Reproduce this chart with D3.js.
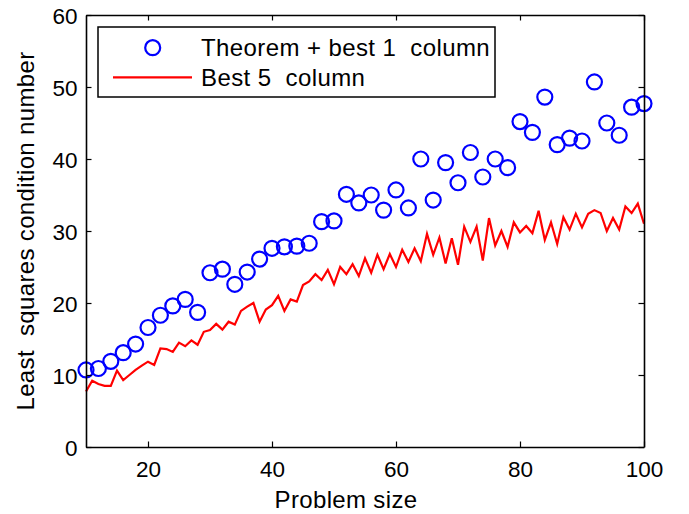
<!DOCTYPE html>
<html>
<head>
<meta charset="utf-8">
<script src="https://cdn.jsdelivr.net/npm/d3@7"></script>
<style>
  body { margin: 0; background: #fff; }
  text { font-family: "Liberation Sans", Arial, Helvetica, sans-serif; fill: #000; white-space: pre; }
</style>
</head>
<body>
<div id="chart"></div>
<script>
// problem sizes for the circle series (every 2nd size)
const theoremSizes = d3.range(10, 101, 2);
const theoremValues = [
  10.7, 10.9, 11.9, 13.1, 14.3, 16.6, 18.3, 19.6, 20.5, 18.7,
  24.2, 24.7, 22.6, 24.3, 26.1, 27.6, 27.8, 27.9, 28.3, 31.3,
  31.4, 35.1, 33.9, 35.0, 32.9, 35.7, 33.2, 40.0, 34.3, 39.5,
  36.7, 40.9, 37.5, 40.0, 38.8, 45.2, 43.7, 48.6, 42.0, 42.9,
  42.5, 50.7, 45.0, 43.3, 47.2, 47.7
];

// problem sizes for the line series (every size)
const bestSizes = d3.range(10, 101, 1);
const bestValues = [
  7.7, 9.2, 8.75, 8.5, 8.5, 10.6, 9.3, 10.0, 10.7, 11.3,
  11.85, 11.4, 13.7, 13.6, 13.2, 14.5, 14.0, 14.8, 14.2, 16.0,
  16.25, 17.1, 16.3, 17.4, 17.0, 18.9, 19.5, 20.0, 17.4, 19.1,
  19.7, 21.0, 18.9, 20.5, 20.2, 22.5, 23.0, 24.0, 23.2, 24.6,
  22.6, 25.0, 24.0, 25.4, 23.75, 26.2, 24.2, 26.7, 24.7, 26.8,
  25.0, 27.4, 25.7, 27.6, 25.8, 29.6, 26.7, 29.1, 25.5, 29.0,
  25.3, 30.6, 28.5, 30.6, 25.9, 31.8, 28.0, 30.0, 27.8, 31.2,
  29.8, 30.7, 29.7, 32.8, 28.75, 31.2, 28.2, 31.9, 30.2, 32.4,
  30.5, 32.4, 32.9, 32.5, 30.0, 31.8, 30.2, 33.4, 32.5, 33.8,
  31.0
];

const xTicks = [20, 40, 60, 80, 100];
const yTicks = [0, 10, 20, 30, 40, 50, 60];
const legendLabels = ["Theorem + best 1  column", "Best 5  column"];
const xLabel = "Problem size";
const yLabel = "Least  squares condition number";

const W = 689, H = 514;
const margin = {top: 15, right: 45, bottom: 67, left: 86};
const width = W - margin.left - margin.right;
const height = H - margin.top - margin.bottom;

const svg = d3.select("#chart").append("svg")
    .attr("width", W)
    .attr("height", H);
const g = svg.append("g")
    .attr("transform", "translate(" + margin.left + "," + margin.top + ")");

const x = d3.scaleLinear().domain([10, 100]).range([0, width]);
const y = d3.scaleLinear().domain([0, 60]).range([height, 0]);

// red line
const line = d3.line()
    .x((d, i) => x(bestSizes[i]))
    .y(d => y(d));
g.append("path")
    .datum(bestValues)
    .attr("fill", "none")
    .attr("stroke", "#ff0000")
    .attr("stroke-width", 2.2)
    .attr("stroke-linejoin", "miter")
    .attr("d", line);

// blue circles
g.selectAll("circle.pt")
    .data(theoremValues)
  .enter().append("circle")
    .attr("class", "pt")
    .attr("cx", (d, i) => x(theoremSizes[i]))
    .attr("cy", d => y(d))
    .attr("r", 7.5)
    .attr("fill", "none")
    .attr("stroke", "#0000ff")
    .attr("stroke-width", 2.2);

// axes box with inward ticks
const tickLen = 5.5;
const axBottom = g.append("g").attr("transform", "translate(0," + height + ")")
    .call(d3.axisBottom(x).tickValues(xTicks).tickSizeInner(-tickLen).tickSizeOuter(0).tickPadding(14));
const axTop = g.append("g")
    .call(d3.axisTop(x).tickValues(xTicks).tickSizeInner(-tickLen).tickSizeOuter(0).tickFormat(""));
const axLeft = g.append("g")
    .call(d3.axisLeft(y).tickValues(yTicks).tickSizeInner(-tickLen).tickSizeOuter(0).tickPadding(14));
const axRight = g.append("g").attr("transform", "translate(" + width + ",0)")
    .call(d3.axisRight(y).tickValues(yTicks).tickSizeInner(-tickLen).tickSizeOuter(0).tickFormat(""));

[axBottom, axTop, axLeft, axRight].forEach(a => {
    a.selectAll("path.domain").attr("stroke", "#000").attr("stroke-width", 1.6);
    a.selectAll(".tick line").attr("stroke", "#000").attr("stroke-width", 1.2);
    a.selectAll(".tick text").style("font-size", "22.5px")
        .style("font-family", "'Liberation Sans', Arial, sans-serif").attr("fill", "#000");
});
axLeft.selectAll(".tick text").attr("dy", "0.38em").attr("x", -8.5);
axBottom.selectAll(".tick text").attr("dy", "0.71em").attr("y", 14);

// axis labels
svg.append("text")
    .attr("x", 346)
    .attr("y", 508)
    .attr("text-anchor", "middle")
    .style("font-size", "24px")
    .style("letter-spacing", "0.35px")
    .text(xLabel);
svg.append("text")
    .attr("transform", "translate(34,231) rotate(-90)")
    .attr("text-anchor", "middle")
    .style("font-size", "24px")
    .style("letter-spacing", "0.35px")
    .text(yLabel);

// legend
const legend = svg.append("g");
legend.append("rect")
    .attr("x", 98).attr("y", 27)
    .attr("width", 397).attr("height", 70)
    .attr("fill", "#fff")
    .attr("stroke", "#000")
    .attr("stroke-width", 1.5);
legend.append("circle")
    .attr("cx", 152.7).attr("cy", 47.7).attr("r", 7.5)
    .attr("fill", "none").attr("stroke", "#0000ff").attr("stroke-width", 2.2);
legend.append("line")
    .attr("x1", 113).attr("x2", 192)
    .attr("y1", 77.3).attr("y2", 77.3)
    .attr("stroke", "#ff0000").attr("stroke-width", 2.2);
legend.selectAll("text.lg")
    .data(legendLabels)
  .enter().append("text")
    .attr("class", "lg")
    .attr("x", 201)
    .attr("y", (d, i) => 55.5 + i * 30)
    .style("font-size", "24px")
    .style("letter-spacing", "0.4px")
    .text(d => d);
</script>
</body>
</html>
